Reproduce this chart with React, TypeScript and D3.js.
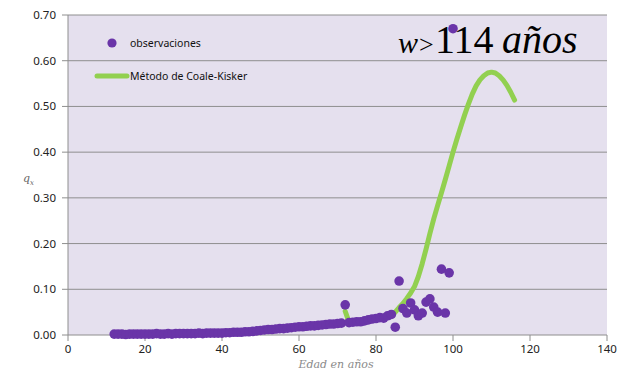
import * as d3 from "d3";
import React from "react";

// edades observadas 12..100, qx observado
const obsStartAge = 12;
const obsValues = [
  0.002, 0.002, 0.002, 0.001, 0.002, 0.002, 0.002, 0.002, 0.002,
  0.002, 0.002, 0.003, 0.002, 0.002, 0.003, 0.002, 0.003, 0.003, 0.003,
  0.003, 0.003, 0.003, 0.004, 0.003, 0.004, 0.004, 0.004, 0.004, 0.004,
  0.005, 0.005, 0.006, 0.006, 0.006, 0.007, 0.007, 0.008, 0.009, 0.01,
  0.011, 0.012, 0.012, 0.013, 0.014, 0.014, 0.015, 0.016, 0.017, 0.018,
  0.018, 0.019, 0.02, 0.02, 0.021, 0.022, 0.023, 0.024, 0.024, 0.025,
  0.026, 0.066, 0.027, 0.028, 0.029, 0.029, 0.031, 0.033, 0.035, 0.036,
  0.038, 0.037, 0.042, 0.045, 0.017, 0.118, 0.058, 0.048, 0.07, 0.055,
  0.042, 0.048, 0.072, 0.079, 0.061, 0.05, 0.144, 0.048, 0.136, 0.67,
];

// Coale-Kisker 72..116
const ckStartAge = 72;
const ckValues = [
  0.052, 0.028, 0.029, 0.03, 0.031, 0.032, 0.034, 0.035, 0.037, 0.039,
  0.041, 0.043, 0.046, 0.05, 0.06, 0.069, 0.08, 0.092, 0.106, 0.128,
  0.156, 0.188, 0.222, 0.254, 0.283, 0.311, 0.34, 0.37, 0.4, 0.428,
  0.455, 0.481, 0.505, 0.527, 0.545, 0.558, 0.567, 0.573, 0.575, 0.573,
  0.567, 0.558, 0.546, 0.531, 0.514,
];

const xTicks = [0, 20, 40, 60, 80, 100, 120, 140];
const yTicks = [0, 0.1, 0.2, 0.3, 0.4, 0.5, 0.6, 0.7];

const W = 620;
const H = 371;
const PURPLE = "#6a35a8";
const GREEN = "#92d050";
const FONT = "'Noto Sans', 'Open Sans', sans-serif";

export default function App() {
  const x = d3.scaleLinear().domain([0, 140]).range([68, 607]);
  const y = d3.scaleLinear().domain([0, 0.7]).range([335, 15]);

  const obs = obsValues.map((v, i) => ({ age: obsStartAge + i, v }));
  const ck = ckValues.map((v, i) => ({ age: ckStartAge + i, v }));

  const line = d3
    .line<{ age: number; v: number }>()
    .x((d) => x(d.age))
    .y((d) => y(d.v));

  const [x0, x1] = x.range();
  const [yb, yt] = y.range();

  return (
    <div style={{ position: "absolute", left: 0, top: 0 }}>
      <svg width={W} height={H} style={{ display: "block", background: "#fff" }}>
        <rect x={x0} y={yt} width={x1 - x0} height={yb - yt} fill="#e5e0ee" />
        {yTicks.map((t) => (
          <g key={t}>
            <line x1={x0 - 6} x2={x1} y1={y(t)} y2={y(t)} stroke="#8e8e8e" strokeWidth={1} />
            <text
              x={x0 - 12}
              y={y(t)}
              dy="0.35em"
              textAnchor="end"
              fontFamily={FONT}
              fontSize={11.5}
              fill="#222"
            >
              {t.toFixed(2)}
            </text>
          </g>
        ))}
        <line x1={x0} x2={x0} y1={yt} y2={yb} stroke="#8e8e8e" />
        {xTicks.map((t) => (
          <g key={t}>
            <line x1={x(t)} x2={x(t)} y1={yb} y2={yb + 6} stroke="#8e8e8e" />
            <text
              x={x(t)}
              y={yb + 18}
              textAnchor="middle"
              fontFamily={FONT}
              fontSize={11.5}
              fill="#222"
            >
              {t}
            </text>
          </g>
        ))}

        <path
          d={line(ck) ?? ""}
          fill="none"
          stroke={GREEN}
          strokeWidth={5}
          strokeLinejoin="round"
          strokeLinecap="round"
        />
        {obs.map((d) => (
          <circle key={d.age} cx={x(d.age)} cy={y(d.v)} r={4.8} fill={PURPLE} />
        ))}

        {/* leyenda */}
        <circle cx={112} cy={43} r={4.6} fill={PURPLE} />
        <text x={130} y={43} dy="0.35em" fontFamily={FONT} fontSize={10.5} fill="#111">
          observaciones
        </text>
        <line x1={97} x2={127} y1={76} y2={76} stroke={GREEN} strokeWidth={5} strokeLinecap="round" />
        <text x={130} y={76} dy="0.35em" fontFamily={FONT} fontSize={10.5} fill="#111">
          Método de Coale-Kisker
        </text>

        <text fontFamily="'Liberation Serif', serif" fill="#000" y={53}>
          <tspan x={398} fontSize={30} fontStyle="italic">w</tspan>
          <tspan x={419} fontSize={26}>&gt;</tspan>
          <tspan x={435} fontSize={40}>114</tspan>
          <tspan x={502} fontSize={40} fontStyle="italic">años</tspan>
        </text>

        {/* ejes */}
        <text
          x={23}
          y={182}
          fontFamily="'DejaVu Serif', serif"
          fontStyle="italic"
          fontSize={11}
          fill="#666"
        >
          q<tspan fontSize={7} dy={3}>x</tspan>
        </text>
        <text
          x={336}
          y={368}
          textAnchor="middle"
          fontFamily="'DejaVu Serif', serif"
          fontStyle="italic"
          fontSize={11}
          fill="#8a8a8a"
        >
          Edad en años
        </text>
      </svg>
    </div>
  );
}
